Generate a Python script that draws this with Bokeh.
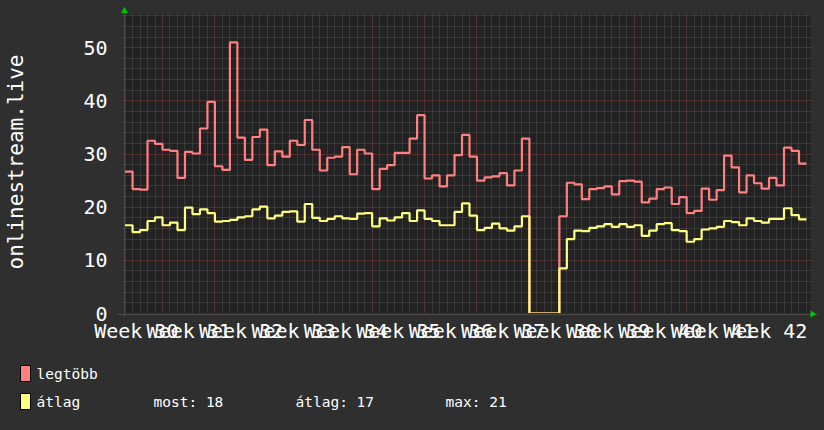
import math
from bokeh.plotting import figure
from bokeh.layouts import column, row
from bokeh.models import (Range1d, FixedTicker, BoxAnnotation, Span, GlobalInlineStyleSheet)
from bokeh.embed import file_html
from bokeh.resources import INLINE

# ---------------- data (daily values; day 0 = first day of week 31) ----------------
days = list(range(-5, 86))
legtobb = [26.7, 23.4, 23.3, 32.5, 31.9, 30.8, 30.6, 25.5, 30.4, 30.1,
           34.8, 39.8, 27.7, 27.0, 51.0, 33.1, 28.9, 33.2, 34.6, 27.9,
           30.5, 29.5, 32.5, 31.7, 36.4, 30.8, 26.9, 29.3, 29.5, 31.3,
           26.2, 30.8, 30.1, 23.4, 27.2, 27.9, 30.2, 30.2, 32.9, 37.3,
           25.4, 26.0, 23.9, 26.0, 29.8, 33.6, 29.5, 25.0, 25.6, 25.8,
           26.4, 24.1, 26.9, 32.9, 0.0, 0.0, 0.0, 0.0, 18.3, 24.6,
           24.3, 21.5, 23.4, 23.6, 23.9, 22.4, 24.9, 25.0, 24.8, 20.9,
           21.6, 23.4, 23.7, 20.6, 21.9, 18.9, 19.3, 23.5, 21.4, 23.2,
           29.7, 27.5, 22.8, 26.0, 24.5, 23.5, 25.5, 24.1, 31.2, 30.6,
           28.2]
atlag = [16.6, 15.3, 15.7, 17.4, 18.1, 16.6, 17.1, 15.7, 19.9, 18.7,
         19.6, 18.9, 17.3, 17.4, 17.6, 18.1, 18.3, 19.6, 20.1, 17.9,
         18.4, 19.1, 19.2, 17.3, 20.6, 18.0, 17.4, 17.8, 18.3, 17.9,
         17.8, 18.8, 18.9, 16.4, 17.9, 17.5, 18.1, 18.9, 17.4, 19.4,
         17.8, 17.4, 16.6, 16.6, 19.1, 20.7, 18.4, 15.7, 16.1, 16.9,
         16.0, 15.6, 16.4, 18.3, 0.0, 0.0, 0.0, 0.0, 8.5, 14.0,
         15.6, 15.5, 16.1, 16.4, 16.8, 16.3, 16.8, 16.3, 16.6, 14.6,
         15.6, 16.8, 17.0, 15.7, 15.5, 13.5, 14.0, 15.8, 16.0, 16.3,
         17.4, 17.2, 16.6, 17.9, 17.4, 17.1, 17.8, 17.8, 19.8, 18.5,
         17.7]
week_labels = ["Week 30", "Week 31", "Week 32", "Week 33", "Week 34", "Week 35",
               "Week 36", "Week 37", "Week 38", "Week 39", "Week 40", "Week 41",
               "Week 42"]
y_ticks = [0, 10, 20, 30, 40, 50]
legend_labels = ["legtöbb", "átlag"]
stat_texts = ["most: 18", "átlag: 17", "max: 21"]

# ---------------- styling ----------------
MONO = "DejaVu Sans Mono"
BG = "#2f2f2f"
PLOT_BG = "#222222"
RED = "#ff8080"
YEL = "#ffff80"
GREEN = "#00c800"
AXIS = "#4a4a4a"
MAJ_GRID = "#6e2b2b"
MIN_GRID = "#4e4e4e"

# pixel geometry of the plot area (page pixels)
DAY_PX = 7.488          # one day
UNIT_PX = 300 / 56.25   # one y unit
X_START = -38 / DAY_PX  # left edge of the data area (page x = 124)


def dx(px):
    return X_START + (px - 124) / DAY_PX


def dy(py):
    return (314 - py) / UNIT_PX


FR_L, FR_R, FR_T, FR_B = 116, 818, 6, 318
W = 824
H1 = 345

p = figure(width=W, height=H1, output_backend="svg", toolbar_location=None,
           x_range=Range1d(dx(FR_L), dx(FR_R)), y_range=Range1d(dy(FR_B), dy(FR_T)))
p.min_border_left = FR_L
p.min_border_right = W - FR_R
p.min_border_top = FR_T
p.min_border_bottom = H1 - FR_B
p.background_fill_color = BG
p.border_fill_color = BG
p.outline_line_color = None

# dark plot area
p.add_layout(BoxAnnotation(left=X_START, right=dx(810), bottom=dy(315), top=dy(14),
                           fill_color=PLOT_BG, fill_alpha=1, line_color=None,
                           level="image"))

week_bounds = list(range(0, 85, 7))
day_bounds = list(range(-5, 87))
week_centers = [-3.5 + 7 * i for i in range(len(week_labels))]
y_minor = list(range(0, 57, 2))

# grids
p.xgrid.ticker = FixedTicker(ticks=week_bounds, minor_ticks=day_bounds)
p.ygrid.ticker = FixedTicker(ticks=y_ticks, minor_ticks=y_minor)
for g in (p.xgrid, p.ygrid):
    g.grid_line_color = MAJ_GRID
    g.grid_line_dash = "1 1"
    g.grid_line_width = 1
    g.minor_grid_line_color = MIN_GRID
    g.minor_grid_line_dash = "1 1"
    g.minor_grid_line_width = 1
gx, gy = p.xgrid[0], p.ygrid[0]
if "cross_bounds" in gx.properties():
    gx.cross_bounds = (dy(317), dy(12))
    gy.cross_bounds = (dx(122), dx(811))

# x axis (labels at week centres)
xa = p.xaxis[0]
xa.ticker = FixedTicker(ticks=week_centers, minor_ticks=[])
xa.major_label_overrides = {c: lab for c, lab in zip(week_centers, week_labels)}
xa.major_tick_line_color = None
xa.minor_tick_line_color = None
xa.major_tick_out = 0
xa.major_tick_in = 0
xa.axis_line_color = None
xa.major_label_standoff = 1
xa.major_label_text_font = MONO
xa.major_label_text_font_size = "20px"
xa.major_label_text_color = "#ffffff"

# y axis
ya = p.yaxis[0]
ya.ticker = FixedTicker(ticks=y_ticks, minor_ticks=[])
ya.major_tick_out = 0
ya.major_tick_in = 0
ya.major_tick_line_color = None
ya.minor_tick_line_color = None
ya.axis_line_color = None
ya.major_label_standoff = 9
ya.major_label_text_font = MONO
ya.major_label_text_font_size = "20px"
ya.major_label_text_color = "#ffffff"
ya.axis_label = "onlinestream.live"
ya.axis_label_text_font = MONO
ya.axis_label_text_font_size = "21px"
ya.axis_label_text_font_style = "normal"
ya.axis_label_text_color = "#ffffff"
ya.axis_label_standoff = 52

# series (step lines)
xs = days + [days[-1] + 1]
p.step(x=xs, y=legtobb + [legtobb[-1]], mode="after", line_color=RED, line_width=2.2)
p.step(x=xs, y=atlag + [atlag[-1]], mode="after", line_color=YEL, line_width=2.2)

# everything below the zero line is outside the graph area
p.add_layout(BoxAnnotation(left=dx(FR_L), right=dx(FR_R), bottom=dy(FR_B), top=dy(313.4),
                           fill_color=BG, fill_alpha=1, line_color=None))
p.add_layout(Span(location=dy(315), dimension="width", line_color=AXIS, line_width=1))
p.add_layout(Span(location=X_START, dimension="height", line_color=AXIS, line_width=1))

# axis arrows
p.scatter(x=[X_START], y=[dy(10.5)], marker="triangle", size=7, fill_color=GREEN,
          line_color=None, level="overlay")
p.scatter(x=[dx(812)], y=[dy(314.5)], marker="triangle", size=7, angle=-math.pi / 2,
          fill_color=GREEN, line_color=None, level="overlay")

# ---------------- legend strip (page pixel coordinates) ----------------
H2 = 430 - H1
q = figure(width=W, height=H2, output_backend="svg", toolbar_location=None,
           x_range=Range1d(0, W), y_range=Range1d(430, H1),
           x_axis_location=None, y_axis_location=None,
           min_border=0, min_border_left=0, min_border_right=0,
           min_border_top=0, min_border_bottom=0)
q.grid.visible = False
q.background_fill_color = BG
q.border_fill_color = BG
q.outline_line_color = None
q.quad(left=[20, 20], right=[30, 30], top=[365, 393], bottom=[381, 409],
       fill_color=[RED, YEL], line_color="#000000", line_width=1)
q.text(x=[36, 36], y=[373, 401], text=legend_labels, text_baseline="middle",
       text_color="#ffffff", text_font={"value": MONO}, text_font_size="14.5px")
q.text(x=[153, 295, 445], y=[401, 401, 401], text=stat_texts, text_baseline="middle",
       text_color="#ffffff", text_font={"value": MONO}, text_font_size="14.5px")

layout = column(p, row(q), spacing=0)
layout.stylesheets = [GlobalInlineStyleSheet(css="body { background-color: %s; }" % BG)]

open("out.html", "w").write(file_html(layout, INLINE))
